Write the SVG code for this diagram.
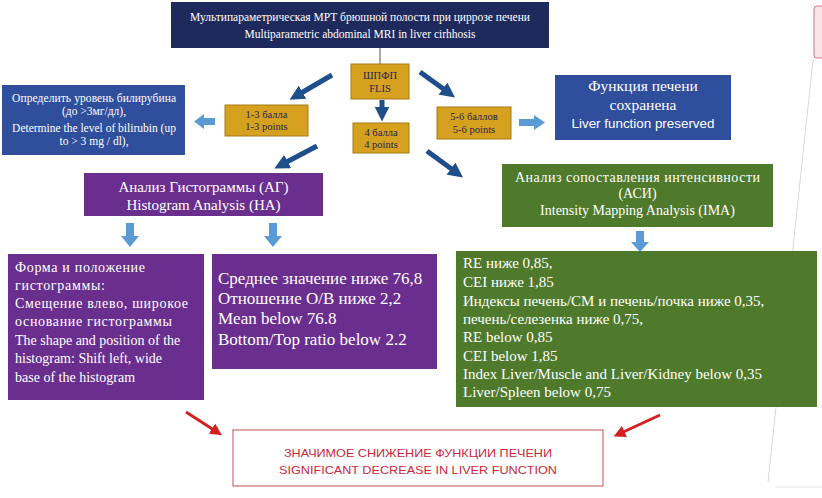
<svg xmlns="http://www.w3.org/2000/svg" width="822" height="498" viewBox="0 0 822 498">
<style>
.serif{font-family:"Liberation Serif","Times New Roman",serif}
.sans{font-family:"Liberation Sans",Arial,sans-serif}
.w{fill:#ffffff}
.navy{fill:#1f2a5c}
.gold{fill:#d5a11e;stroke:#a67c12;stroke-width:1}
.gt{fill:#2a2550;font-size:10.5px;text-anchor:middle}
.blue{fill:#2f4e9c}
.purple{fill:#6a2f8e}
.green{fill:#4f7a2b}
.lb{fill:#5b9bd5}
.db{stroke:#1f4e8c;stroke-width:5;fill:none}
.red{stroke:#d42020;stroke-width:3;fill:none}
</style>
<defs>
<marker id="dbh" viewBox="0 0 10 10" refX="5" refY="5" markerWidth="3" markerHeight="3" orient="auto" markerUnits="strokeWidth">
<path d="M0,0 L10,5 L0,10 z" fill="#1f4e8c"/>
</marker>
<marker id="rh" viewBox="0 0 10 10" refX="5" refY="5" markerWidth="4" markerHeight="4" orient="auto" markerUnits="strokeWidth">
<path d="M0,0 L10,5 L0,10 z" fill="#d42020"/>
</marker>
</defs>
<rect width="822" height="498" fill="#ffffff"/>

<!-- scan artifacts -->
<path d="M813,60 L768,482" stroke="#d8d8d8" stroke-width="1" fill="none"/>
<path d="M775,487 L822,487" stroke="#e4e4e4" stroke-width="1" fill="none"/>
<rect x="814" y="6" width="12" height="52" rx="3" fill="#fbe3ea" stroke="#c77a84" stroke-width="1"/>

<g id="connectors">
<path d="M380,48 L380,64" stroke="#555" stroke-width="1"/>
<path d="M382,100 L382,114" class="db" marker-end="url(#dbh)"/>
<path d="M332,75 L296,96" class="db" marker-end="url(#dbh)"/>
<path d="M420,72 L449,93" class="db" marker-end="url(#dbh)"/>
<path d="M317,146 L281,165" class="db" marker-end="url(#dbh)"/>
<path d="M427,151 L457,173" class="db" marker-end="url(#dbh)"/>
<path d="M215,118 L204,118 L204,114 L194,121.5 L204,129 L204,125 L215,125 z" class="lb"/>
<path d="M519,119 L534,119 L534,115 L545,122.5 L534,130 L534,126 L519,126 z" class="lb"/>
<path d="M126,223 L134,223 L134,236 L139,236 L130,247 L121,236 L126,236 z" class="lb"/>
<path d="M269,223 L277,223 L277,236 L282,236 L273,247 L264,236 L269,236 z" class="lb"/>
<path d="M636,231 L644,231 L644,242 L649,242 L640,252 L631,242 L636,242 z" class="lb"/>
<path d="M186,412 L217,432" class="red" marker-end="url(#rh)"/>
<path d="M660,415 L619,434" class="red" marker-end="url(#rh)"/>
</g>

<g id="mri">
<rect x="171" y="2" width="378" height="46" class="navy"/>
<text x="360" y="21" class="serif w" font-size="11.5" text-anchor="middle">Мультипараметрическая МРТ брюшной полости при циррозе печени</text>
<text x="360" y="38" class="serif w" font-size="11.5" text-anchor="middle">Multiparametric abdominal MRI in liver cirhhosis</text>
</g>

<g id="flis">
<rect x="351" y="64" width="58" height="35" class="gold"/>
<text x="380" y="79" class="serif gt" font-size="11.5">ШПФП</text>
<text x="380" y="92" class="serif gt" font-size="11.5">FLIS</text>
</g>

<g id="p13">
<rect x="225" y="105" width="83" height="31" class="gold"/>
<text x="266.5" y="118" class="serif gt">1-3 балла</text>
<text x="266.5" y="130" class="serif gt">1-3 points</text>
</g>

<g id="p4">
<rect x="353" y="123" width="56" height="30" class="gold"/>
<text x="381" y="136" class="serif gt">4 балла</text>
<text x="381" y="148" class="serif gt">4 points</text>
</g>

<g id="p56">
<rect x="437" y="107" width="74" height="32" class="gold"/>
<text x="474" y="120" class="serif gt">5-6 баллов</text>
<text x="474" y="133" class="serif gt">5-6 points</text>
</g>

<g id="bilirubin">
<rect x="2" y="85" width="183" height="70" class="blue"/>
<text x="94" y="102" class="serif w" font-size="11.5" text-anchor="middle" textLength="164" lengthAdjust="spacing">Определить уровень билирубина</text>
<text x="94" y="115" class="serif w" font-size="11.5" text-anchor="middle">(до &gt;3мг/дл),</text>
<text x="94" y="132" class="serif w" font-size="11.5" text-anchor="middle">Determine the level of bilirubin (up</text>
<text x="94" y="145" class="serif w" font-size="11.5" text-anchor="middle">to &gt; 3 mg / dl),</text>
</g>

<g id="preserved">
<rect x="555" y="75" width="176" height="65" class="blue"/>
<text x="643" y="91" class="serif w" font-size="15.5" text-anchor="middle">Функция печени</text>
<text x="643" y="110" class="serif w" font-size="15.5" text-anchor="middle">сохранена</text>
<text x="643" y="128" class="sans w" font-size="13.4" text-anchor="middle">Liver function preserved</text>
</g>

<g id="ha">
<rect x="84" y="173" width="239" height="43" class="purple"/>
<text x="203.5" y="192" class="serif w" font-size="15" text-anchor="middle">Анализ Гистограммы (АГ)</text>
<text x="203.5" y="210" class="serif w" font-size="15" text-anchor="middle">Histogram Analysis (HA)</text>
</g>

<g id="ima">
<rect x="502" y="164" width="271" height="63" class="green"/>
<text x="637.5" y="182" class="serif w" font-size="14" text-anchor="middle" textLength="245" lengthAdjust="spacing">Анализ сопоставления интенсивности</text>
<text x="637.5" y="198" class="serif w" font-size="14" text-anchor="middle">(АСИ)</text>
<text x="637.5" y="215" class="serif w" font-size="14" text-anchor="middle">Intensity Mapping Analysis  (IMA)</text>
</g>

<g id="shape">
<rect x="8" y="254" width="196" height="146" class="purple"/>
<text class="serif w" font-size="14">
<tspan x="15" y="272" textLength="130" lengthAdjust="spacing">Форма и положение</tspan>
<tspan x="15" y="290" textLength="90" lengthAdjust="spacing">гистограммы:</tspan>
<tspan x="15" y="308" textLength="173" lengthAdjust="spacing">Смещение влево, широкое</tspan>
<tspan x="15" y="326" textLength="157" lengthAdjust="spacing">основание гистограммы</tspan>
<tspan x="15" y="345">The shape and position of the</tspan>
<tspan x="15" y="363">histogram: Shift left, wide</tspan>
<tspan x="15" y="382">base of the histogram</tspan>
</text>
</g>

<g id="mean">
<rect x="212" y="254" width="225" height="115" class="purple"/>
<text class="serif w" font-size="17">
<tspan x="218" y="284">Среднее значение ниже 76,8</tspan>
<tspan x="218" y="304">Отношение О/В ниже 2,2</tspan>
<tspan x="218" y="324">Mean below 76.8</tspan>
<tspan x="218" y="345">Bottom/Top ratio below 2.2</tspan>
</text>
</g>

<g id="indices">
<rect x="456" y="251" width="361" height="156" class="green"/>
<text class="serif w" font-size="15">
<tspan x="463" y="268">RE ниже 0,85,</tspan>
<tspan x="463" y="287">CEI ниже 1,85</tspan>
<tspan x="463" y="306">Индексы печень/СМ и печень/почка ниже 0,35,</tspan>
<tspan x="463" y="324">печень/селезенка ниже 0,75,</tspan>
<tspan x="463" y="342">RE below 0,85</tspan>
<tspan x="463" y="361">CEI below 1,85</tspan>
<tspan x="463" y="379">Index Liver/Muscle and Liver/Kidney below 0,35</tspan>
<tspan x="463" y="397">Liver/Spleen below 0,75</tspan>
</text>
</g>

<g id="decrease">
<rect x="233" y="430" width="370" height="56" fill="#ffffff" stroke="#c0504d" stroke-width="1"/>
<text x="418" y="457" class="sans" font-size="11" fill="#c8283c" text-anchor="middle" textLength="268" lengthAdjust="spacingAndGlyphs">ЗНАЧИМОЕ СНИЖЕНИЕ ФУНКЦИИ ПЕЧЕНИ</text>
<text x="418" y="474" class="sans" font-size="11" fill="#c8283c" text-anchor="middle" textLength="278" lengthAdjust="spacingAndGlyphs">SIGNIFICANT DECREASE IN LIVER FUNCTION</text>
</g>
</svg>
